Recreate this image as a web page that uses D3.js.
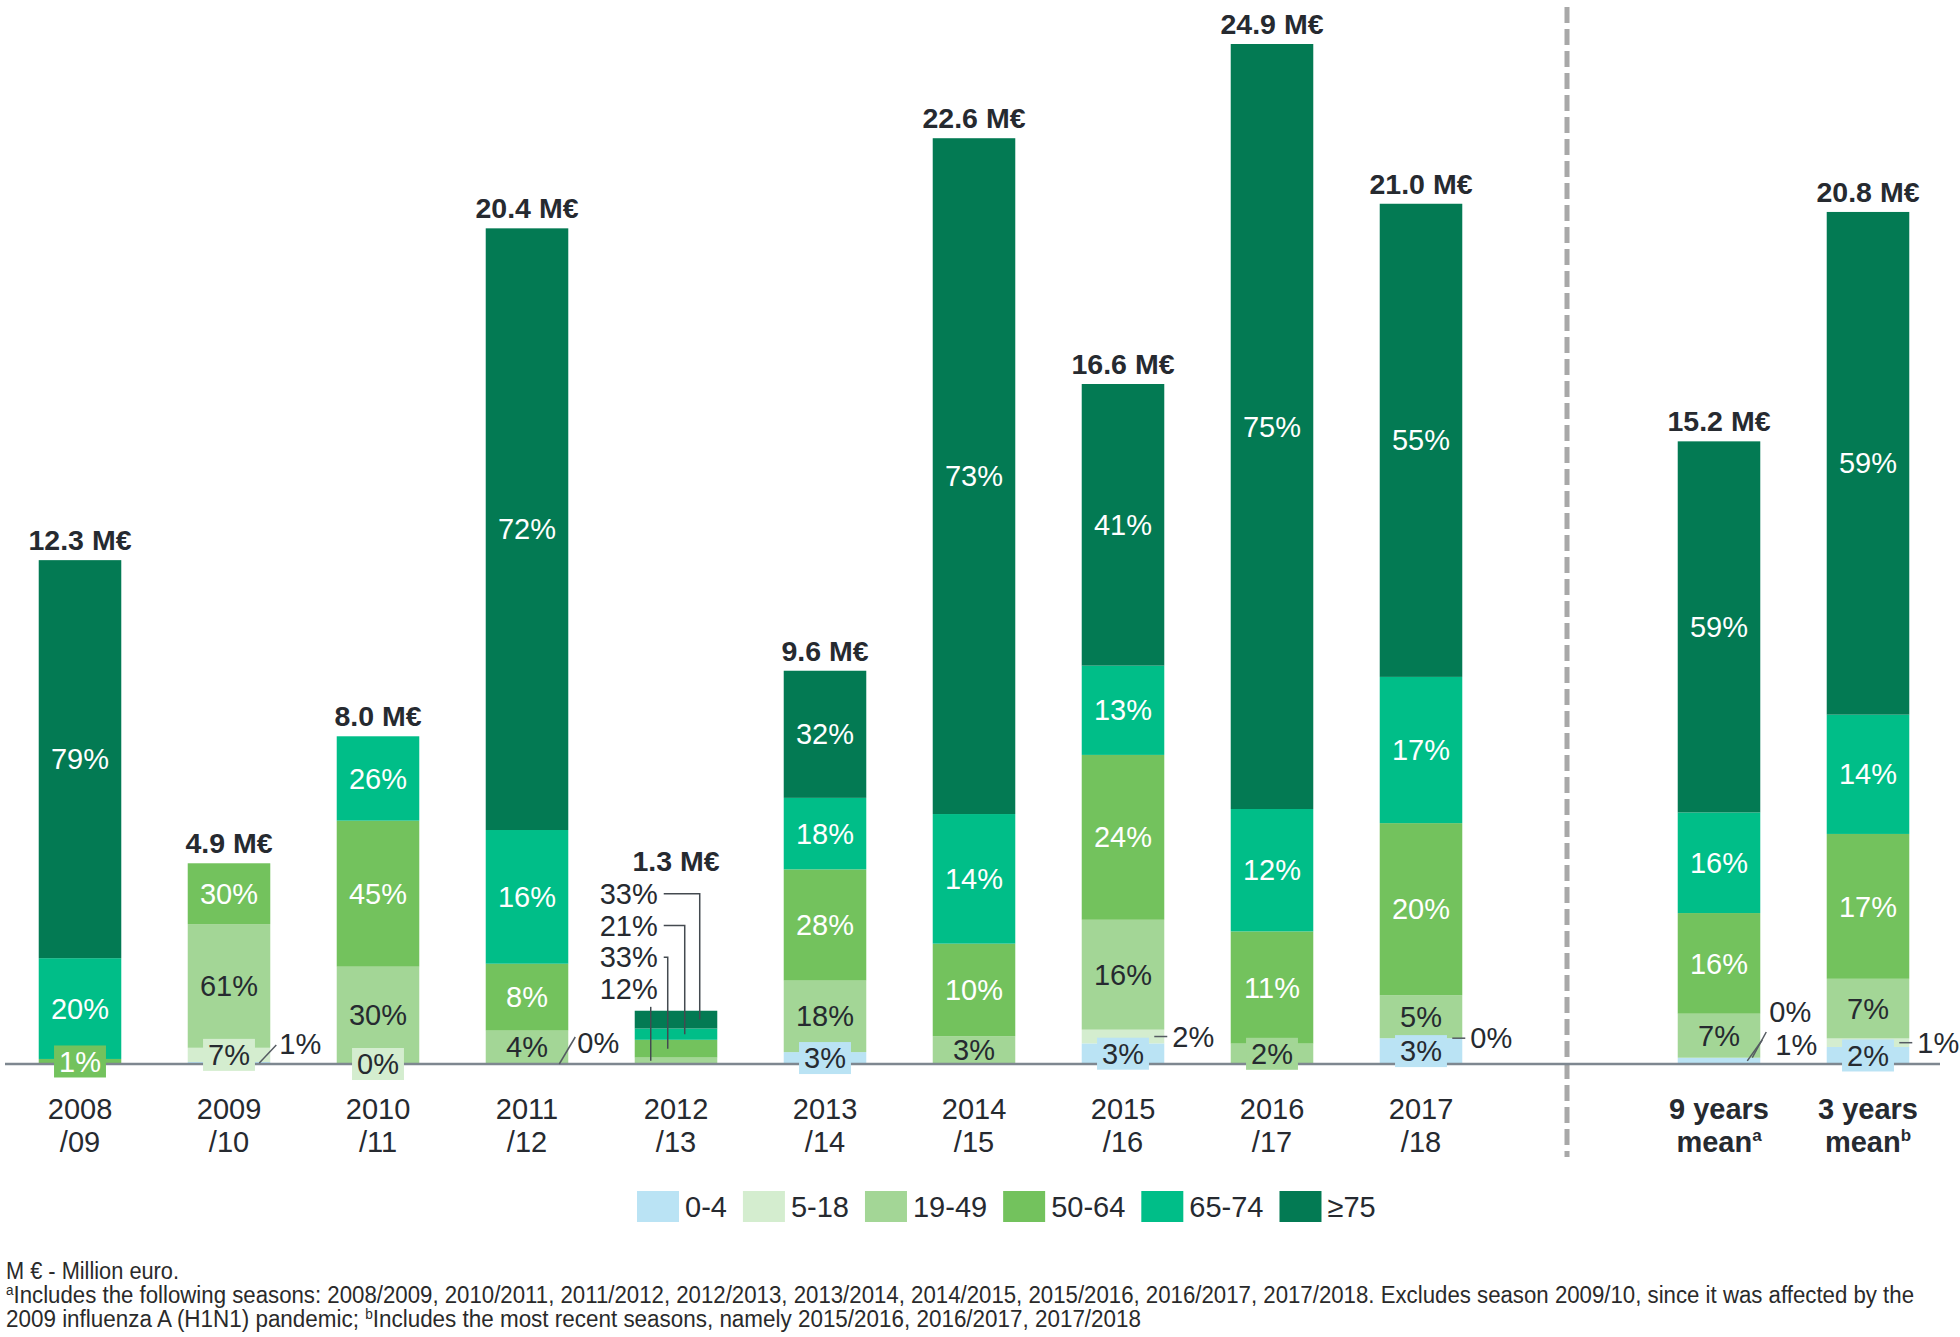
<!DOCTYPE html>
<html><head><meta charset="utf-8">
<script src="https://cdn.jsdelivr.net/npm/d3@7"></script>
<style>
html,body{margin:0;padding:0;background:#fff;}
svg{display:block;}
text{font-family:"Liberation Sans", Arial, sans-serif;}
</style></head><body>
<svg id="chart" width="1960" height="1337"></svg>
<script>
// ---------------- DATA ----------------
const seasons = ["2008/09","2009/10","2010/11","2011/12","2012/13","2013/14","2014/15","2015/16","2016/17","2017/18","gap","9 years mean","3 years mean"];
const axisLine1 = ["2008","2009","2010","2011","2012","2013","2014","2015","2016","2017","","9 years","3 years"];
const axisLine2 = ["/09","/10","/11","/12","/13","/14","/15","/16","/17","/18","","mean","mean"];
const axisSup   = ["","","","","","","","","","","","a","b"];
const totals = [12.3,4.9,8.0,20.4,1.3,9.6,22.6,16.6,24.9,21.0,null,15.2,20.8];
const ageGroups = ["0-4","5-18","19-49","50-64","65-74","≥75"];
const pct0_4   = [0, 1, 0, 0, 0, 3, 0, 3, 0, 3, null, 1, 2];
const pct5_18  = [0, 7, 0, 0, 0, 0, 0, 2, 0, 0, null, 0, 1];
const pct19_49 = [0,61,30, 4,12,18, 3,16, 2, 5, null, 7, 7];
const pct50_64 = [1,30,45, 8,33,28,10,24,11,20, null,16,17];
const pct65_74 = [20,0,26,16,21,18,14,13,12,17, null,16,14];
const pct75    = [79,0, 0,72,33,32,73,41,75,55, null,59,59];
const groupColors = ["#bae3f4","#d4edcf","#a3d696","#73c25d","#00be88","#037a53"];
const footnote1 = "M € - Million euro.";
const footnote2 = "Includes  the following seasons: 2008/2009, 2010/2011, 2011/2012, 2012/2013, 2013/2014, 2014/2015, 2015/2016, 2016/2017, 2017/2018. Excludes season 2009/10, since it was affected by the";
const footnote3a = "2009 influenza  A (H1N1) pandemic; ";
const footnote3b = "Includes  the most recent seasons,  namely 2015/2016, 2016/2017, 2017/2018";

// ---------------- LABEL CALLOUT STYLE CONFIG ----------------
const callouts = [
  {bar:"2008/09", g:3, type:"box"},
  {bar:"2009/10", g:0, type:"slant", sx:-11, ex:6, ey:-19, tx:9, ly:-20},
  {bar:"2009/10", g:1, type:"box"},
  {bar:"2010/11", g:1, type:"box"},
  {bar:"2011/12", g:0, type:"slant", sx:-9, ex:7, ey:-27, tx:9, ly:-21},
  {bar:"2012/13", g:2, type:"left", row:3, lx:16},
  {bar:"2012/13", g:3, type:"left", row:2, lx:33},
  {bar:"2012/13", g:4, type:"left", row:1, lx:50},
  {bar:"2012/13", g:5, type:"left", row:0, lx:65},
  {bar:"2013/14", g:0, type:"box"},
  {bar:"2015/16", g:0, type:"box"},
  {bar:"2015/16", g:1, type:"tick"},
  {bar:"2016/17", g:2, type:"box"},
  {bar:"2017/18", g:0, type:"box"},
  {bar:"2017/18", g:1, type:"tick"},
  {bar:"9 years mean", g:0, type:"slant", sx:-13, ex:2, ey:-24, tx:15, ly:-19},
  {bar:"9 years mean", g:1, type:"slant", sx:-8, ex:6, ey:-32, tx:9, ly:-52},
  {bar:"3 years mean", g:0, type:"box"},
  {bar:"3 years mean", g:1, type:"tick"}
];
const totalLift = {"2012/13":140};

// ---------------- CHART ----------------
const svg = d3.select("#chart");
const baseY = 1064;
const dark = "#262a30";
const fs = 29;

const x = d3.scaleBand().domain(seasons).range([5.5,1942.5]).paddingInner(0.446).paddingOuter(0.223);
const y = d3.scaleLinear().domain([0,24.9]).range([baseY,44]);
const color = d3.scaleOrdinal().domain(ageGroups).range(groupColors);
const pctTable = [pct0_4,pct5_18,pct19_49,pct50_64,pct65_74,pct75];
const bw = x.bandwidth();

const rows = seasons.map((s,i)=>{
  if (totals[i]==null) return null;
  const sum = d3.sum(pctTable, a=>a[i]);
  const r = {season:s, total:totals[i]};
  ageGroups.forEach((g,k)=>{ r[g] = totals[i]*pctTable[k][i]/sum; r["pct_"+g] = pctTable[k][i]; });
  return r;
}).filter(d=>d);

const stack = d3.stack().keys(ageGroups)(rows);

// dashed separator
const gapX = x("gap") + bw/2 - 3;
svg.append("line").attr("x1",gapX).attr("x2",gapX).attr("y1",7).attr("y2",1157)
  .attr("stroke","#a8a8a8").attr("stroke-width",5).attr("stroke-dasharray","16,6");

// bars
const layers = svg.append("g").selectAll("g").data(stack).join("g").attr("fill",d=>color(d.key));
layers.selectAll("rect").data(d=>d.map(v=>({v, key:d.key}))).join("rect")
  .attr("x",d=>x(d.v.data.season))
  .attr("y",d=>y(d.v[1]))
  .attr("width",bw)
  .attr("height",d=>Math.max(0,y(d.v[0])-y(d.v[1])));

// baseline
svg.append("line").attr("x1",5).attr("x2",1940).attr("y1",baseY).attr("y2",baseY)
  .attr("stroke","#7e8790").attr("stroke-width",2.5);

const labelG = svg.append("g");
function segInfo(season,k){
  const layer = stack[k];
  const v = layer.find(e=>e.data.season===season);
  return {top:y(v[1]), bot:y(v[0]), mid:(y(v[1])+y(v[0]))/2, pct:v.data["pct_"+ageGroups[k]]};
}
const isCallout = (s,k)=>callouts.some(c=>c.bar===s && c.g===k);

// inside labels
stack.forEach((layer,k)=>{
  layer.forEach(v=>{
    const s = v.data.season;
    const p = v.data["pct_"+ageGroups[k]];
    if (p<=0 || isCallout(s,k)) return;
    const mid = (y(v[0])+y(v[1]))/2;
    labelG.append("text").attr("x",x(s)+bw/2).attr("y",mid).attr("dy","0.35em")
      .attr("text-anchor","middle").attr("font-size",fs)
      .attr("fill",k>=3?"#ffffff":dark).text(p+"%");
  });
});

// callouts
callouts.forEach(c=>{
  const si = segInfo(c.bar,c.g);
  const left = x(c.bar), right = left+bw, cx = left+bw/2;
  const txt = si.pct+"%";
  if (c.type==="box"){
    const t = labelG.append("text").attr("x",cx).attr("y",si.mid).attr("dy","0.35em")
      .attr("text-anchor","middle").attr("font-size",fs)
      .attr("fill",c.g>=3?"#ffffff":dark).text(txt);
    const w = t.node().getComputedTextLength()+10;
    labelG.insert("rect","text").attr("x",cx-w/2).attr("y",si.mid-16).attr("width",w).attr("height",32)
      .attr("fill",color(ageGroups[c.g]));
  } else if (c.type==="slant"){
    labelG.append("line").attr("x1",right+c.sx).attr("y1",si.mid).attr("x2",right+c.ex).attr("y2",baseY+c.ey)
      .attr("stroke","#555b62").attr("stroke-width",1.5);
    labelG.append("text").attr("x",right+c.tx).attr("y",baseY+c.ly).attr("dy","0.35em")
      .attr("font-size",fs).attr("fill",dark).text(txt);
  } else if (c.type==="tick"){
    labelG.append("line").attr("x1",right-10).attr("y1",si.mid).attr("x2",right+3).attr("y2",si.mid)
      .attr("stroke","#555b62").attr("stroke-width",1.5);
    labelG.append("text").attr("x",right+8).attr("y",si.mid).attr("dy","0.35em")
      .attr("font-size",fs).attr("fill",dark).text(txt);
  } else if (c.type==="left"){
    const barTop = y(totals[seasons.indexOf(c.bar)]);
    const ry = barTop - 117 + c.row*31.7;
    labelG.append("text").attr("x",left+23).attr("y",ry).attr("dy","0.35em")
      .attr("text-anchor","end").attr("font-size",fs).attr("fill",dark).text(txt);
    const pts = c.row===3
      ? [[left+c.lx, ry+18],[left+c.lx, si.mid]]
      : [[left+29, ry],[left+c.lx, ry],[left+c.lx, si.mid]];
    labelG.append("path").attr("d",d3.line()(pts)).attr("fill","none")
      .attr("stroke","#444a50").attr("stroke-width",1.5);
  }
});

// totals
seasons.forEach((s,i)=>{
  if (totals[i]==null) return;
  const lift = totalLift[s] || 10;
  labelG.append("text").attr("x",x(s)+bw/2).attr("y",y(totals[i])-lift)
    .attr("text-anchor","middle").attr("font-size",28.5).attr("font-weight","bold")
    .attr("fill",dark).text(totals[i].toFixed(1)+" M€");
});

// x axis
const axisG = svg.append("g").attr("transform",`translate(0,${baseY})`)
  .call(d3.axisBottom(x).tickSize(0).tickFormat(""));
axisG.select(".domain").remove();
axisG.attr("font-family",null).attr("font-size",null);
axisG.selectAll(".tick").each(function(d){
  const i = seasons.indexOf(d);
  const g = d3.select(this);
  g.select("text").remove();
  const bold = axisSup[i]!=="";
  g.append("text").attr("y",55).attr("text-anchor","middle").attr("font-size",fs)
    .attr("font-weight",bold?"bold":null).attr("fill",dark).text(axisLine1[i]);
  const t2 = g.append("text").attr("y",88).attr("text-anchor","middle").attr("font-size",fs)
    .attr("font-weight",bold?"bold":null).attr("fill",dark);
  t2.append("tspan").text(axisLine2[i]);
  if (bold){
    t2.append("tspan").attr("font-size",17).attr("dy",-11).text(axisSup[i]);
  }
});

// legend
const legend = svg.append("g");
let lx = 637;
ageGroups.forEach((g,k)=>{
  legend.append("rect").attr("x",lx).attr("y",1191).attr("width",42).attr("height",31).attr("fill",color(g));
  const t = legend.append("text").attr("x",lx+48).attr("y",1206.5).attr("dy","0.35em")
    .attr("font-size",fs).attr("fill",dark).text(g);
  lx += 48 + t.node().getComputedTextLength() + 16;
});

// footnotes
const fn = svg.append("g").attr("fill","#2a2a2a").attr("font-size",23);
fn.append("text").attr("x",6).attr("y",1279).attr("textLength",173).attr("lengthAdjust","spacingAndGlyphs").text(footnote1);
const f2 = fn.append("text").attr("x",6).attr("y",1303).attr("textLength",1908).attr("lengthAdjust","spacingAndGlyphs");
f2.append("tspan").attr("font-size",14).attr("dy",-8).text("a");
f2.append("tspan").attr("dy",8).text(footnote2);
const f3 = fn.append("text").attr("x",6).attr("y",1327).attr("textLength",1135).attr("lengthAdjust","spacingAndGlyphs");
f3.append("tspan").text(footnote3a);
f3.append("tspan").attr("font-size",14).attr("dy",-8).text("b");
f3.append("tspan").attr("dy",8).text(footnote3b);
</script>
</body></html>
